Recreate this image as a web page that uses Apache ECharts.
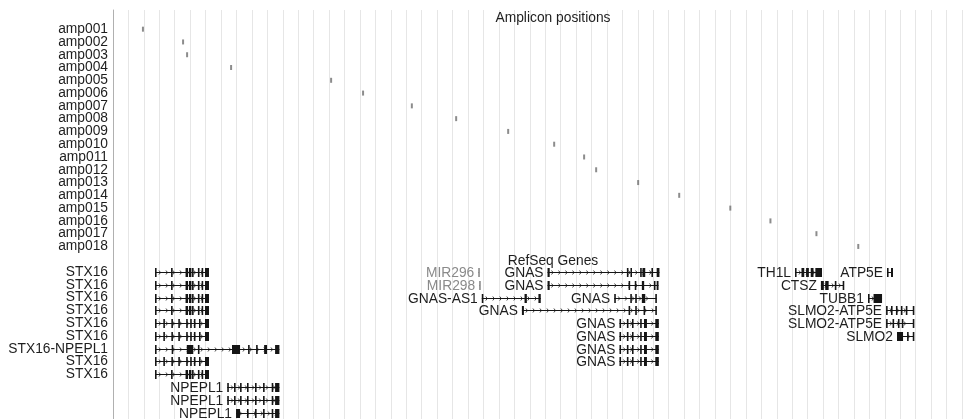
<!DOCTYPE html>
<html>
<head>
<meta charset="utf-8">
<script src="https://cdn.jsdelivr.net/npm/echarts@6/dist/echarts.min.js"></script>
<style>
  html, body { margin: 0; padding: 0; background: #fff; }
  #chart { width: 965px; height: 419px; }
</style>
</head>
<body>
<div id="chart"></div>
<script>
// one row per track line, top to bottom (first row and the RefSeq row hold section titles)
const rowLabels = ['',
  'amp001', 'amp002', 'amp003', 'amp004', 'amp005', 'amp006', 'amp007', 'amp008', 'amp009',
  'amp010', 'amp011', 'amp012', 'amp013', 'amp014', 'amp015', 'amp016', 'amp017', 'amp018',
  '',
  'STX16', 'STX16', 'STX16', 'STX16', 'STX16', 'STX16', 'STX16-NPEPL1', 'STX16', 'STX16',
  '', '', '']

const sectionTitles = ['Amplicon positions', 'RefSeq Genes']

// amplicon positions in kb from window start, row = index + 1
const ampPos = [1.94, 4.54, 4.80, 7.65, 14.13, 16.20, 19.36, 22.23, 25.60,
  28.58, 30.52, 31.30, 34.02, 36.68, 39.99, 42.59, 45.57, 48.28]

// refseq genes
const stx16A = [[2.72, 2.80], [3.76, 3.84], [4.70, 4.86], [4.92, 5.08], [5.12, 5.20], [5.50, 5.56], [5.74, 5.80], [5.96, 6.22]]
const stx16B = [[2.72, 2.78], [3.26, 3.30], [3.78, 3.84], [4.23, 4.27], [4.74, 4.82], [5.00, 5.08], [5.24, 5.30], [5.57, 5.63], [5.96, 6.22]]
const npepl1 = [[7.40, 7.46], [7.84, 7.90], [8.23, 8.29], [8.68, 8.74], [9.20, 9.26], [9.72, 9.78], [10.28, 10.34], [10.50, 10.78]]
const gnasShort = [[32.81, 32.87], [33.29, 33.35], [33.62, 33.68], [34.15, 34.25], [34.40, 34.59], [35.13, 35.36]]

const geneNames = ['STX16', 'STX16', 'STX16', 'STX16', 'STX16', 'STX16', 'STX16-NPEPL1', 'STX16', 'STX16',
  'NPEPL1', 'NPEPL1', 'NPEPL1',
  'MIR296', 'GNAS', 'MIR298', 'GNAS', 'GNAS-AS1', 'GNAS', 'GNAS', 'GNAS', 'GNAS', 'GNAS', 'GNAS',
  'TH1L', 'ATP5E', 'CTSZ', 'TUBB1', 'SLMO2-ATP5E', 'SLMO2-ATP5E', 'SLMO2']
const geneRows = [20, 21, 22, 23, 24, 25, 26, 27, 28,
  29, 30, 31,
  20, 20, 21, 21, 22, 22, 23, 24, 25, 26, 27,
  20, 20, 21, 22, 23, 24, 25]
const geneExons = [
  stx16A, stx16A, stx16A, stx16A, stx16B, stx16B,
  [[2.72, 2.78], [3.80, 3.86], [4.78, 5.20], [5.50, 5.56], [7.71, 8.23], [8.75, 8.81], [9.27, 9.33], [9.79, 9.98], [10.50, 10.78]],
  stx16B, stx16A,
  npepl1, npepl1,
  [[7.97, 8.23], [8.68, 8.74], [9.20, 9.26], [9.72, 9.78], [10.28, 10.34], [10.50, 10.78]],
  [[23.66, 23.72]],
  [[28.15, 28.29], [33.29, 33.35], [33.52, 33.58], [34.15, 34.21], [34.30, 34.48], [34.88, 34.94], [35.22, 35.40]],
  [[23.72, 23.78]],
  [[28.15, 28.29], [33.40, 33.46], [33.80, 33.86], [34.26, 34.41], [35.04, 35.10], [35.22, 35.34]],
  [[23.89, 23.95], [26.66, 26.81], [27.56, 27.71]],
  [[32.47, 32.55], [33.51, 33.57], [33.83, 33.89], [34.26, 34.48], [35.13, 35.21]],
  [[26.49, 26.62], [33.40, 33.46], [33.83, 33.89], [34.37, 34.43], [35.13, 35.21]],
  gnasShort, gnasShort, gnasShort, gnasShort,
  [[44.18, 44.24], [44.60, 44.78], [44.90, 45.08], [45.20, 45.38], [45.50, 45.93]],
  [[50.14, 50.20], [50.40, 50.53]],
  [[45.86, 46.05], [46.14, 46.36], [46.76, 46.82], [47.27, 47.33]],
  [[48.91, 48.97], [49.27, 49.82]],
  [[50.08, 50.14], [50.40, 50.46], [50.72, 50.78], [51.04, 51.10], [51.36, 51.42], [51.81, 51.87]],
  [[50.08, 50.14], [50.50, 50.56], [50.85, 50.95], [51.10, 51.16], [51.81, 51.87]],
  [[50.79, 51.18], [51.44, 51.54], [51.81, 51.87]]
]

const FONT = '13.8px "Liberation Sans", Arial, sans-serif'
const measure = document.createElement('canvas').getContext('2d')
measure.font = FONT

const geneData = geneNames.map((name, i) => {
  let ex = geneExons[i]
  let start = Math.min(...ex.map(e => e[0]))
  let end = Math.max(...ex.map(e => e[1]))
  return [start, end, geneRows[i], i]
})

const GRID_LEFT = 113

function renderGene(params, api) {
  let idx = api.value(3)
  let p1 = api.coord([api.value(0), api.value(2)])
  let p2 = api.coord([api.value(1), api.value(2)])
  let y = Math.round(p1[1]) + 0.5
  let name = geneNames[idx]
  let color = name.startsWith('MIR') ? '#8a8a8a' : '#151515'
  let children = []
  children.push({
    type: 'line',
    shape: {x1: p1[0], y1: y, x2: p2[0], y2: y},
    style: {stroke: color, lineWidth: 1}
  })
  // small strand ticks along the introns
  for (let x = p1[0] + 5; x < p2[0] - 3; x += 7) {
    children.push({
      type: 'polyline',
      shape: {points: [[x - 1, y - 2], [x + 0.5, y], [x - 1, y + 2]]},
      style: {stroke: color, lineWidth: 1, fill: null, opacity: 0.8}
    })
  }
  geneExons[idx].forEach(e => {
    let a = api.coord([e[0], api.value(2)])[0]
    let b = api.coord([e[1], api.value(2)])[0]
    children.push({
      type: 'rect',
      shape: {x: a, y: y - 4.5, width: Math.max(b - a, 1.6), height: 9},
      style: {fill: color}
    })
  })
  let w = measure.measureText(name).width
  if (p1[0] - 4 - w > GRID_LEFT) {
    children.push({
      type: 'text',
      style: {
        text: name, x: p1[0] - 4, y: y + 1, align: 'right', verticalAlign: 'middle',
        font: FONT, fill: name.startsWith('MIR') ? '#8a8a8a' : '#1e1e1e'
      }
    })
  }
  return {type: 'group', children: children}
}

let myChart = echarts.init(document.getElementById('chart'))
myChart.setOption({
  animation: false,
  title: [
    {
      text: sectionTitles[0], left: 553, top: 11, textAlign: 'center', padding: 0,
      textStyle: {fontSize: 13.8, fontWeight: 'normal', color: '#1e1e1e', fontFamily: 'Liberation Sans'}
    },
    {
      text: sectionTitles[1], left: 553, top: 254, textAlign: 'center', padding: 0,
      textStyle: {fontSize: 13.8, fontWeight: 'normal', color: '#1e1e1e', fontFamily: 'Liberation Sans'}
    }
  ],
  grid: {left: GRID_LEFT, right: 3, top: 10, bottom: 0},
  xAxis: {
    type: 'value',
    min: 0,
    max: 55,
    interval: 1,
    axisLine: {show: false},
    axisTick: {show: false},
    axisLabel: {show: false},
    splitLine: {lineStyle: {color: '#e6e6e6', width: 1}}
  },
  yAxis: {
    type: 'category',
    data: rowLabels,
    inverse: true,
    axisTick: {show: false},
    axisLine: {lineStyle: {color: '#b0b0b0'}},
    axisLabel: {
      interval: 0, margin: 5, fontSize: 13.8, color: '#1e1e1e',
      fontFamily: 'Liberation Sans', lineHeight: 13
    },
    splitLine: {show: false}
  },
  series: [
    {
      type: 'scatter',
      data: ampPos.map((x, i) => [x, i + 1]),
      symbol: 'rect',
      symbolSize: [2, 5],
      itemStyle: {color: '#6f6f6f'},
      silent: true
    },
    {
      type: 'custom',
      data: geneData,
      encode: {x: [0, 1], y: 2},
      renderItem: renderGene,
      silent: true
    }
  ]
})
</script>
</body>
</html>
